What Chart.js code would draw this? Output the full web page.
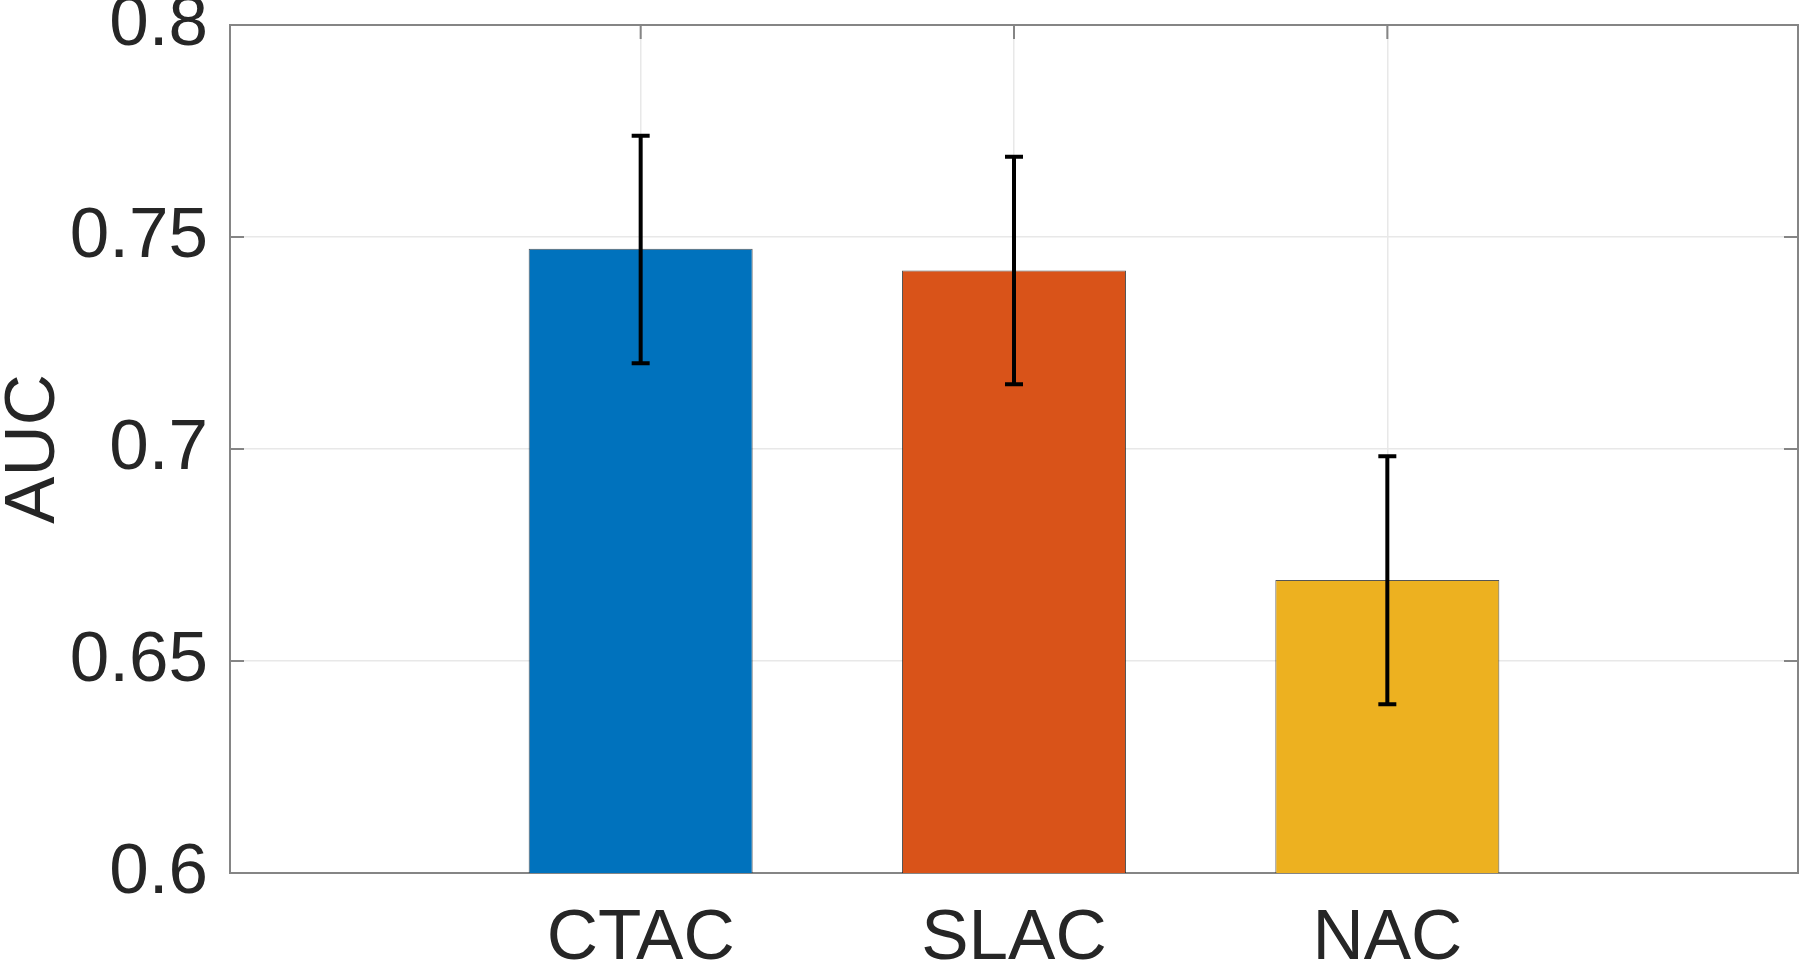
<!DOCTYPE html>
<html>
<head>
<meta charset="utf-8">
<script src="https://cdn.jsdelivr.net/npm/chart.js@4.4.0/dist/chart.umd.min.js"></script>
<style>
    html, body { margin: 0; padding: 0; background: #fff; }
    canvas { display: block; }
</style>
</head>
<body>
<canvas id="aucChart" width="1800" height="961"></canvas>
<script>
const methods = ["CTAC", "SLAC", "NAC"];
const aucMean = [0.7472, 0.7421, 0.6691];
const aucLow = [0.7202, 0.7153, 0.6398];
const aucHigh = [0.7739, 0.7689, 0.6983];
const barColors = ["#0072BD", "#D95319", "#EDB120"];
const yTicks = [0.6, 0.65, 0.7, 0.75, 0.8];

const fontFamily = "'Liberation Sans', Arial, Helvetica, sans-serif";

// black error bars with caps
const errorBars = {
    id: "errorBars",
    afterDatasetsDraw(chart) {
        const ctx = chart.ctx;
        const x = chart.scales.x;
        const y = chart.scales.y;
        ctx.save();
        ctx.strokeStyle = "#000";
        ctx.lineWidth = 4;
        methods.forEach((m, i) => {
            const px = x.getPixelForValue(i + 1);
            const top = y.getPixelForValue(aucHigh[i]);
            const bot = y.getPixelForValue(aucLow[i]);
            ctx.beginPath();
            ctx.moveTo(px, top); ctx.lineTo(px, bot);
            ctx.moveTo(px - 9, top); ctx.lineTo(px + 9, top);
            ctx.moveTo(px - 9, bot); ctx.lineTo(px + 9, bot);
            ctx.stroke();
        });
        ctx.restore();
    }
};

// matlab style box round the plot, ticks pointing inward
const axesBox = {
    id: "axesBox",
    beforeDatasetsDraw(chart) {
        const {ctx, chartArea: a, scales} = chart;
        ctx.save();
        ctx.strokeStyle = "#858585";
        ctx.lineWidth = 2;
        ctx.strokeRect(a.left, a.top, a.right - a.left, a.bottom - a.top);
        ctx.beginPath();
        yTicks.forEach(v => {
            const py = scales.y.getPixelForValue(v);
            ctx.moveTo(a.left, py); ctx.lineTo(a.left + 14, py);
            ctx.moveTo(a.right, py); ctx.lineTo(a.right - 14, py);
        });
        methods.forEach((m, i) => {
            const px = scales.x.getPixelForValue(i + 1);
            ctx.moveTo(px, a.top); ctx.lineTo(px, a.top + 14);
        });
        ctx.stroke();
        ctx.restore();
    }
};

new Chart(
    document.getElementById("aucChart"),
    {
        type: "bar",
        data: {
            datasets: [{
                data: methods.map((m, i) => ({ x: i + 1, y: aucMean[i] })),
                backgroundColor: barColors,
                borderColor: "rgba(30,30,30,0.75)",
                borderWidth: 1,
                categoryPercentage: 1,
                barPercentage: 0.6
            }]
        },
        options: {
            responsive: false,
            animation: false,
            events: [],
            layout: { padding: { top: 25, right: 2, left: 0, bottom: 0 } },
            plugins: {
                legend: { display: false },
                tooltip: { enabled: false }
            },
            scales: {
                x: {
                    type: "linear",
                    min: -0.1,
                    max: 4.1,
                    offset: false,
                    afterBuildTicks: s => {
                        s.ticks = methods.map((m, i) => ({ value: i + 1 }));
                    },
                    afterFit: s => {
                        s.height = 88;
                        s.paddingLeft = 0;
                        s.paddingRight = 0;
                    },
                    grid: { color: "#e8e8e8", lineWidth: 1.5, drawTicks: false, offset: false },
                    border: { display: false },
                    ticks: {
                        callback: v => methods[v - 1],
                        color: "#262626",
                        font: { family: fontFamily, size: 71 },
                        padding: 24,
                        maxRotation: 0,
                        autoSkip: false
                    }
                },
                y: {
                    min: 0.6,
                    max: 0.8,
                    afterBuildTicks: s => {
                        s.ticks = yTicks.map(v => ({ value: v }));
                    },
                    afterFit: s => {
                        s.width = 230;
                        s.paddingTop = 0;
                        s.paddingBottom = 0;
                    },
                    grid: { color: "#e8e8e8", lineWidth: 1.5, drawTicks: false },
                    border: { display: false },
                    ticks: {
                        callback: v => String(v),
                        color: "#262626",
                        font: { family: fontFamily, size: 71 },
                        padding: 22
                    },
                    title: {
                        display: true,
                        text: "AUC",
                        color: "#262626",
                        font: { family: fontFamily, size: 71, lineHeight: 0.86 },
                        padding: { top: 4, bottom: 0 }
                    }
                }
            }
        },
        plugins: [axesBox, errorBars]
    }
);
</script>
</body>
</html>
